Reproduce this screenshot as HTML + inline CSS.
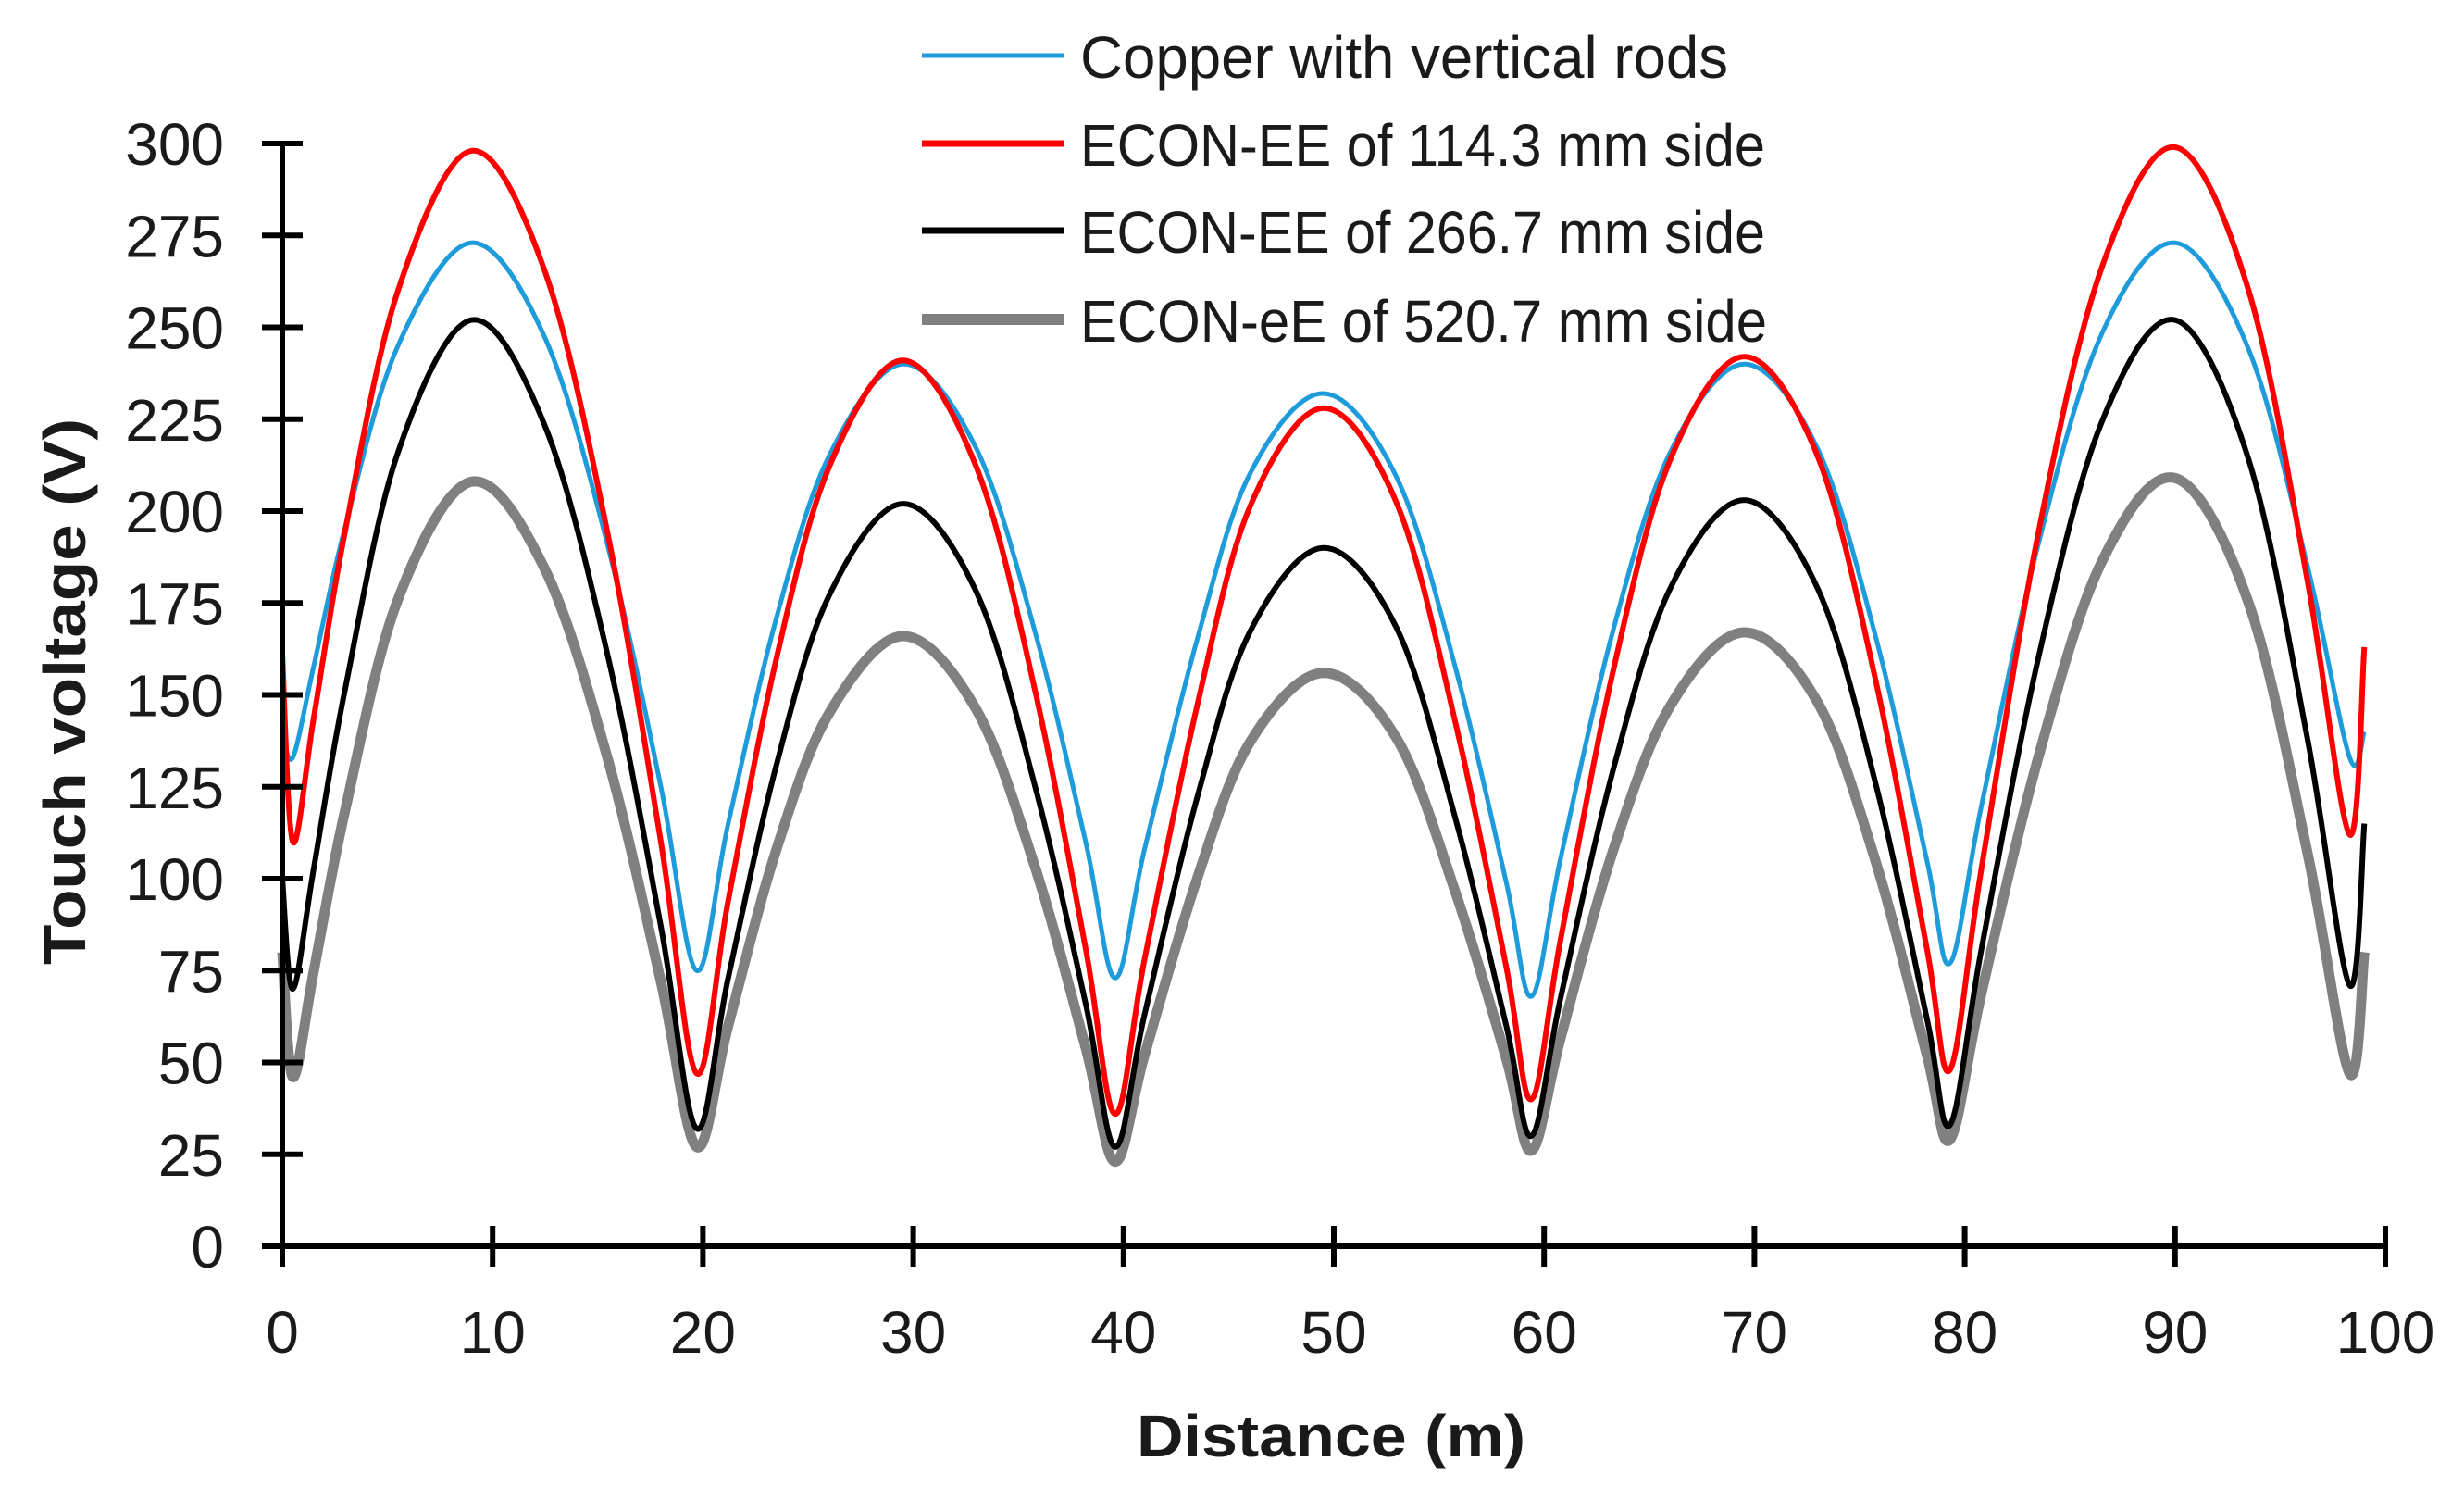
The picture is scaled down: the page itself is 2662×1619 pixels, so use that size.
<!DOCTYPE html>
<html><head><meta charset="utf-8">
<style>html,body{margin:0;padding:0;background:#fff;}svg{display:block;}</style>
</head><body>
<svg id="chart" width="2662" height="1619" viewBox="0 0 2662 1619" xmlns="http://www.w3.org/2000/svg" font-family="Liberation Sans, sans-serif">
<g id="plot"></g>
<g id="axes"></g>
<g id="legend"></g>
</svg>
<script>
const xValues = [0,0.5,1.5,3,5.5,9,12.5,15.5,18,19.7,21.2,23.5,26,29.5,33,35.8,38.2,39.6,41,43.5,46,49.5,53,55.8,58.2,59.4,60.8,63.3,66,69.5,73,75.8,78.2,79.3,80.8,83.5,86.5,90,93.5,96.3,98.3,99];
const copperValues = [140,133,158,196,245,273,247,190,125,75,115,171,215,240,217,167,110,73,108,165,210,232,209,157,99,68,106,168,216,240,217,165,105,77,120,191,248,273,244,185,133,140];
const econ114Values = [161,110,144,195,260,298,265,193,110,47,94,160,212,241,212,151,81,36,78,147,201,228,202,142,76,40,84,157,214,242,215,153,81,48,103,194,266,299,260,181,112,163];
const econ266Values = [100,70,103,152,216,252,223,160,87,32,73,131,177,202,178,125,66,27,63,122,167,190,168,116,60,30,68,130,179,203,179,125,62,33,81,160,224,252,214,138,71,115];
const econ520Values = [80,46,75,119,176,208,184,132,72,27,60,108,145,166,146,103,54,23,52,100,137,156,138,96,51,26,57,108,147,167,148,104,52,29,69,133,186,209,175,107,47,80];
const xTicks = [0,10,20,30,40,50,60,70,80,90,100];
const yTicks = [0,25,50,75,100,125,150,175,200,225,250,275,300];
const seriesNames = ["Copper with vertical rods","ECON-EE of 114.3 mm side","ECON-EE of 266.7 mm side","ECON-eE of 520.7 mm side"];

const NS = "http://www.w3.org/2000/svg";
const X0 = 305, X1 = 2577, Y0 = 1346, Y1 = 155;
const xs = v => X0 + (v / 100) * (X1 - X0);
const ys = v => Y0 - (v / 300) * (Y0 - Y1);
function mk(tag, attrs, parent){const e=document.createElementNS(NS,tag);for(const k in attrs)e.setAttribute(k,attrs[k]);parent.appendChild(e);return e;}

const plot = document.getElementById('plot');
const axes = document.getElementById('axes');
const legend = document.getElementById('legend');

function pathFor(vals){
  const p = xValues.map((x,i)=>[xs(x), ys(vals[i])]);
  let d = `M${p[0][0].toFixed(1)},${p[0][1].toFixed(1)}`;
  for(let i=0;i<p.length-1;i++){
    const p0=p[Math.max(0,i-1)],p1=p[i],p2=p[i+1],p3=p[Math.min(p.length-1,i+2)];
    const c1=[p1[0]+(p2[0]-p0[0])/6,p1[1]+(p2[1]-p0[1])/6];
    const c2=[p2[0]-(p3[0]-p1[0])/6,p2[1]-(p3[1]-p1[1])/6];
    d+=` C${c1[0].toFixed(1)},${c1[1].toFixed(1)} ${c2[0].toFixed(1)},${c2[1].toFixed(1)} ${p2[0].toFixed(1)},${p2[1].toFixed(1)}`;
  }
  return d;
}
const series = [
  {vals: econ520Values, color:'#808080', w:11, name:'series-econ-520'},
  {vals: econ266Values, color:'#000000', w:6, name:'series-econ-266'},
  {vals: copperValues, color:'#1E9BDB', w:5, name:'series-copper'},
  {vals: econ114Values, color:'#FF0000', w:6, name:'series-econ-114'}
];
series.forEach(s=>{
  const el = mk('path',{d:pathFor(s.vals),fill:'none',stroke:s.color,'stroke-width':s.w,'stroke-linejoin':'round'},plot);
  
  
});

const yAxis = mk('line',{x1:X0,y1:Y1-3,x2:X0,y2:Y0+22,stroke:'#000','stroke-width':6},axes);


const xAxis = mk('line',{x1:X0-22,y1:Y0,x2:X1+3,y2:Y0,stroke:'#000','stroke-width':6},axes);


yTicks.forEach(v=>{
  const t = mk('line',{x1:X0-22,y1:ys(v),x2:X0+22,y2:ys(v),stroke:'#000','stroke-width':6},axes);
  
  
  const l = mk('text',{x:242,y:ys(v)+23,'text-anchor':'end','font-size':64,fill:'#1a1a1a'},axes);
  l.textContent = v;
  
  
});
xTicks.forEach(v=>{
  const t = mk('line',{x1:xs(v),y1:Y0-22,x2:xs(v),y2:Y0+22,stroke:'#000','stroke-width':6},axes);
  
  
  const l = mk('text',{x:xs(v),y:1461,'text-anchor':'middle','font-size':64,fill:'#1a1a1a'},axes);
  l.textContent = v;
  
  
});
const xt = mk('text',{x:1438,y:1573,'text-anchor':'middle','font-size':64,'font-weight':'bold',fill:'#1a1a1a',textLength:420,lengthAdjust:'spacingAndGlyphs'},axes);
xt.textContent='Distance (m)';


const yt = mk('text',{x:0,y:0,'text-anchor':'middle','font-size':64,'font-weight':'bold',fill:'#1a1a1a',transform:'translate(92,747) rotate(-90)',textLength:590,lengthAdjust:'spacingAndGlyphs'},axes);
yt.textContent='Touch voltage (V)';



const legColors=['#1E9BDB','#FF0000','#000000','#808080'];
const legW=[5,7,7,12];
const legY=[60,155,249,345];
const legLen=[700,740,740,742];
seriesNames.forEach((n,i)=>{
  const g = mk('g',{},legend);
  
  
  mk('line',{x1:996,y1:legY[i],x2:1150,y2:legY[i],stroke:legColors[i],'stroke-width':legW[i]},g);
  const t = mk('text',{x:1167,y:legY[i]+24,'font-size':64,fill:'#1a1a1a',textLength:legLen[i],lengthAdjust:'spacingAndGlyphs'},g);
  t.textContent=n;
});
</script>
</body></html>
